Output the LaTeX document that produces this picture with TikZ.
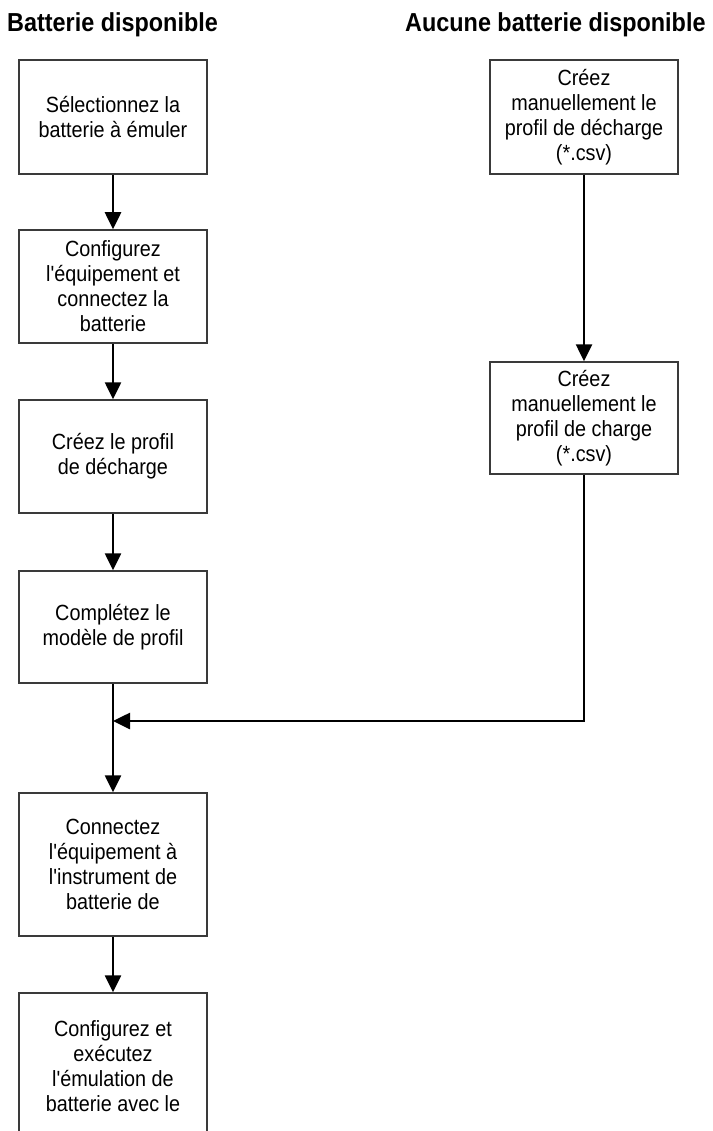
\documentclass[tikz,border=0pt]{standalone}
\usepackage{fontspec}
\setmainfont{Liberation Sans}[FakeStretch=0.9,Ligatures=TeXOff]
\usepackage{tikz}
\usetikzlibrary{arrows.meta,positioning}
\usepackage{xcolor}
\definecolor{boxLine}{HTML}{3A3A3A}
\tikzset{
  flow/.style={-{Triangle[length=17pt,width=16pt]}, line width=2.6pt, draw=black},
  stepbox/.style={draw=boxLine, fill=white, line width=1.5pt, align=center, minimum width=188pt, inner sep=2pt, font=\fontsize{22}{25}\selectfont},
  colhead/.style={anchor=base west, inner sep=0pt, font=\fontsize{26}{30}\selectfont\bfseries}
}
\begin{document}
\begin{tikzpicture}[x=1pt,y=-1pt]
  \clip (0,0) rectangle (712,1131);
  \fill[white] (0,0) rectangle (712,1131);
  % column headings
  \node[colhead] (hbat) at (7,32) {Batterie disponible};
  \node[colhead] (hnone) at (405,32) {Aucune batterie disponible};
  % left column
  \node[stepbox, minimum height=114pt] (sel) at (113,117) {S\'electionnez la\\batterie \`a \'emuler};
  \node[stepbox, minimum height=113pt] (cfg) at (113,286.5) {Configurez\\l'\'equipement et\\connectez la\\batterie};
  \node[stepbox, minimum height=113pt] (dech) at (113,456.5) {Cr\'eez le profil\\de d\'echarge};
  \node[stepbox, minimum height=112pt] (tpl) at (113,627) {Compl\'etez le\\mod\`ele de profil};
  \node[stepbox, minimum height=143pt] (conn) at (113,864.5) {Connectez\\l'\'equipement \`a\\l'instrument de\\batterie de};
  \node[stepbox, minimum height=147pt] (run) at (113,1066.5) {Configurez et\\ex\'ecutez\\l'\'emulation de\\batterie avec le};
  % right column
  \node[stepbox, minimum height=114pt] (rdech) at (584,117) {Cr\'eez\\manuellement le\\profil de d\'echarge\\(*.csv)};
  \node[stepbox, minimum height=112pt] (rchg) at (584,418) {Cr\'eez\\manuellement le\\profil de charge\\(*.csv)};
  \coordinate (merge) at (113,721);
  % connectors
  \draw[flow] (sel) -- (cfg);
  \draw[flow] (cfg) -- (dech);
  \draw[flow] (dech) -- (tpl);
  \draw[flow] (tpl) -- (conn);
  \draw[flow] (conn) -- (run);
  \draw[flow] (rdech) -- (rchg);
  \draw[flow] (rchg.south) |- (merge);
\end{tikzpicture}
\end{document}
